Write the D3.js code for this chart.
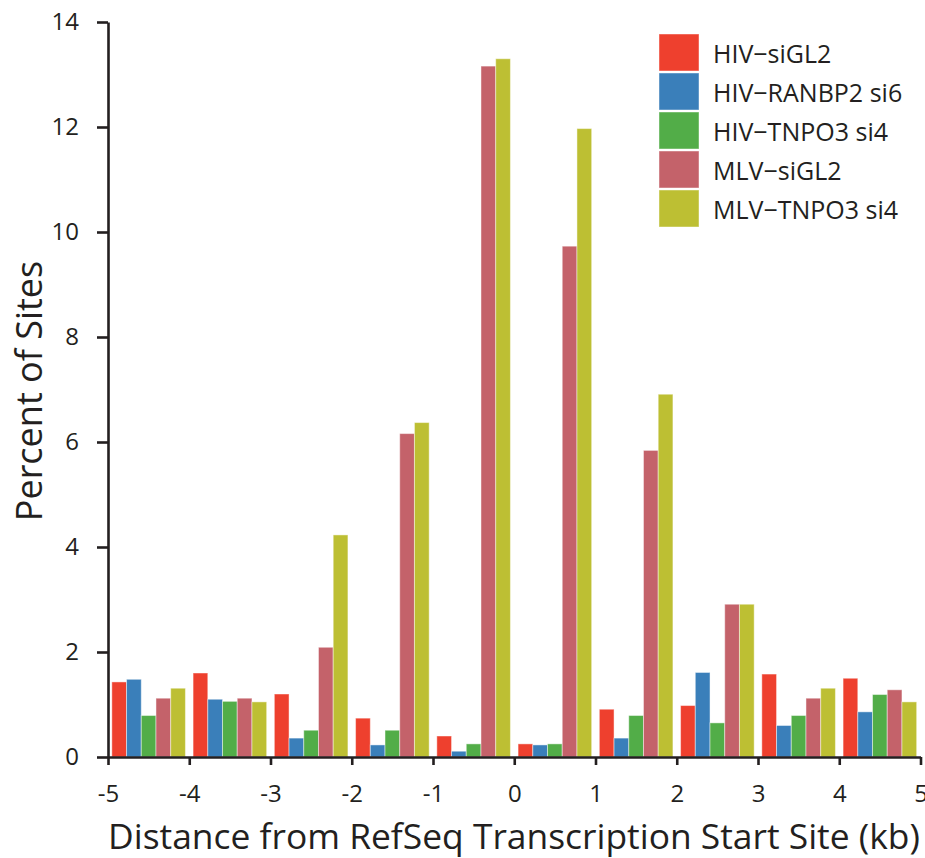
<!DOCTYPE html>
<html>
<head>
<meta charset="utf-8">
<script src="https://cdn.jsdelivr.net/npm/d3@7/dist/d3.min.js"></script>
<style>
  html,body{margin:0;padding:0;background:#fff;}
  svg text{font-family:"Open Sans","Noto Sans",sans-serif;fill:#231f20;}
</style>
</head>
<body>
<svg id="chart" width="925" height="858"></svg>
<script>
// bins: start of each 1kb window, from -5 to 4
const bins = [-5,-4,-3,-2,-1,0,1,2,3,4];
const seriesNames = ['HIV\u2212siGL2','HIV\u2212RANBP2 si6','HIV\u2212TNPO3 si4','MLV\u2212siGL2','MLV\u2212TNPO3 si4'];
const seriesColors = ['#ee402e','#3a7fba','#52ad48','#c4626a','#bdbf33'];
const hivSiGL2   = [1.43,1.60,1.20,0.74,0.40,0.25,0.91,0.98,1.58,1.50];
const hivRanbp2  = [1.48,1.10,0.36,0.23,0.11,0.23,0.36,1.61,0.60,0.86];
const hivTnpo3   = [0.79,1.06,0.51,0.51,0.25,0.25,0.79,0.65,0.79,1.19];
const mlvSiGL2   = [1.12,1.12,2.09,6.16,13.16,9.73,5.84,2.91,1.12,1.28];
const mlvTnpo3   = [1.31,1.05,4.23,6.37,13.30,11.97,6.91,2.91,1.31,1.05];
const seriesValues = [hivSiGL2,hivRanbp2,hivTnpo3,mlvSiGL2,mlvTnpo3];
const xTicks = [-5,-4,-3,-2,-1,0,1,2,3,4,5];
const yTicks = [0,2,4,6,8,10,12,14];

const svg = d3.select('#chart');
const x = d3.scaleLinear().domain([-5,5]).range([108,920.5]);
const y = d3.scaleLinear().domain([0,14]).range([757,22]);
const binW = x(-4)-x(-5);
const inner = d3.scaleBand().domain(d3.range(seriesNames.length)).range([0,binW]).paddingInner(0).paddingOuter(0.26);

// bars
seriesValues.forEach((vals,si)=>{
  svg.append('g').selectAll('rect').data(vals).enter().append('rect')
    .attr('x',(d,i)=>x(bins[i])+inner(si))
    .attr('width',inner.bandwidth())
    .attr('y',d=>y(d))
    .attr('height',d=>y(0)-y(d))
    .attr('fill',seriesColors[si])
    .attr('stroke','#fff').attr('stroke-opacity',0.45).attr('stroke-width',1);
});

// axes
const yAxis = svg.append('g').attr('transform',`translate(${x(-5)},0)`)
  .call(d3.axisLeft(y).tickValues(yTicks).tickSize(11).tickPadding(18).tickSizeOuter(0).tickFormat(d=>String(d)));
const xAxis = svg.append('g').attr('transform',`translate(0,${y(0)})`)
  .call(d3.axisBottom(x).tickValues(xTicks).tickSize(8).tickPadding(20).tickSizeOuter(0).tickFormat(d=>String(d)));
[yAxis,xAxis].forEach(g=>{
  g.selectAll('path,line').attr('stroke','#231f20').attr('stroke-width',2.6);
  g.selectAll('text').attr('font-size',24).attr('fill','#231f20');
});

// axis titles
svg.append('text').attr('x',514).attr('y',849).attr('text-anchor','middle')
  .attr('font-size',35.4).text('Distance from RefSeq Transcription Start Site (kb)');
svg.append('text').attr('transform','translate(42,391) rotate(-90)').attr('text-anchor','middle')
  .attr('font-size',36).text('Percent of Sites');

// legend
const legend = svg.append('g').attr('transform','translate(659,34)');
const row = legend.selectAll('g').data(seriesNames).enter().append('g')
  .attr('transform',(d,i)=>`translate(0,${i*39})`);
row.append('rect').attr('width',40).attr('height',37).attr('fill',(d,i)=>seriesColors[i])
  .attr('stroke','#fff').attr('stroke-opacity',0.45).attr('stroke-width',1);
row.append('text').attr('x',54).attr('y',29).attr('font-size',25).text(d=>d);
</script>
</body>
</html>
